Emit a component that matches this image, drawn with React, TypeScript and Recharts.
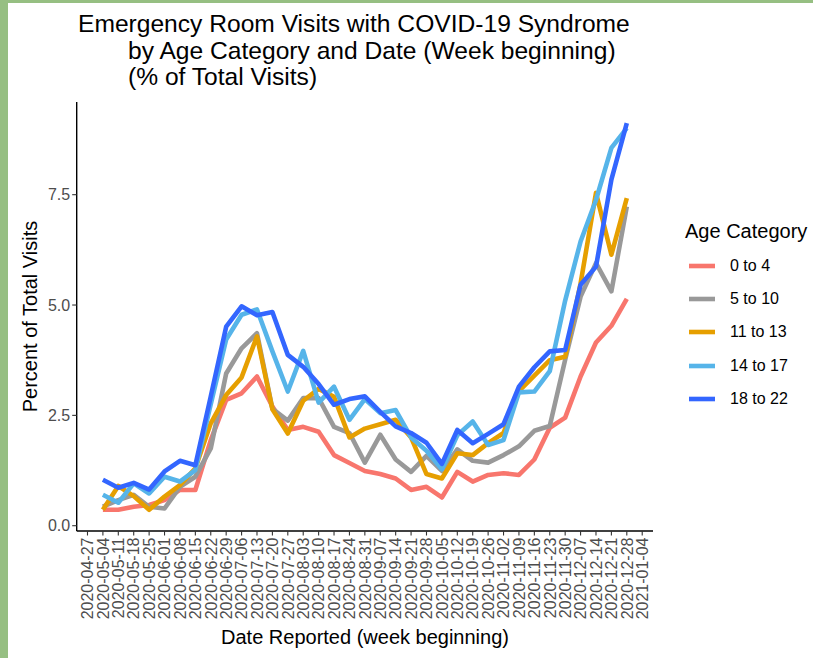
import React from "react";
import { LineChart, Line, XAxis, YAxis, Legend } from "recharts";

const weeks = [
  "2020-05-04", "2020-05-11", "2020-05-18", "2020-05-25", "2020-06-01",
  "2020-06-08", "2020-06-15", "2020-06-22", "2020-06-29", "2020-07-06",
  "2020-07-13", "2020-07-20", "2020-07-27", "2020-08-03", "2020-08-10",
  "2020-08-17", "2020-08-24", "2020-08-31", "2020-09-07", "2020-09-14",
  "2020-09-21", "2020-09-28", "2020-10-05", "2020-10-12", "2020-10-19",
  "2020-10-26", "2020-11-02", "2020-11-09", "2020-11-16", "2020-11-23",
  "2020-11-30", "2020-12-07", "2020-12-14", "2020-12-21", "2020-12-28",
];

const tickLabels = ["2020-04-27", ...weeks, "2021-01-04"];

const age0to4 = [0.36, 0.36, 0.43, 0.47, 0.58, 0.81, 0.81, 1.94, 2.85, 3.0, 3.38, 2.7, 2.17, 2.24, 2.13, 1.6, 1.42, 1.24, 1.17, 1.07, 0.81, 0.88, 0.64, 1.22, 1.0, 1.15, 1.19, 1.15, 1.5, 2.22, 2.45, 3.38, 4.15, 4.53, 5.14];
const age5to10 = [0.43, 0.58, 0.7, 0.43, 0.39, 0.88, 1.11, 1.75, 3.45, 4.02, 4.36, 2.65, 2.38, 2.89, 2.89, 2.24, 2.1, 1.43, 2.06, 1.5, 1.22, 1.58, 1.24, 1.73, 1.47, 1.43, 1.6, 1.8, 2.15, 2.26, 3.76, 5.19, 5.95, 5.31, 7.23];
const age11to13 = [0.36, 0.9, 0.67, 0.36, 0.66, 0.92, 1.3, 2.32, 2.96, 3.36, 4.29, 2.64, 2.09, 2.83, 3.1, 2.92, 2.0, 2.2, 2.3, 2.4, 2.0, 1.17, 1.07, 1.64, 1.6, 1.87, 2.1, 3.05, 3.4, 3.75, 3.83, 5.49, 7.54, 6.14, 7.42];
const age14to17 = [0.7, 0.52, 0.96, 0.73, 1.11, 1.0, 1.26, 2.75, 4.22, 4.78, 4.9, 3.95, 3.04, 3.96, 2.79, 3.15, 2.4, 2.87, 2.55, 2.62, 2.0, 1.7, 1.28, 2.05, 2.36, 1.83, 1.94, 3.02, 3.04, 3.5, 5.1, 6.44, 7.38, 8.56, 9.01];
const age18to22 = [1.04, 0.86, 0.97, 0.82, 1.23, 1.47, 1.37, 2.93, 4.51, 4.97, 4.77, 4.84, 3.87, 3.6, 3.21, 2.74, 2.87, 2.93, 2.58, 2.25, 2.1, 1.88, 1.4, 2.17, 1.87, 2.08, 2.3, 3.15, 3.59, 3.95, 3.98, 5.46, 5.87, 7.84, 9.12];

const yTicks = [0, 2.5, 5, 7.5];

const series = [
  { key: "a0", name: "0 to 4", color: "#F8766D", values: age0to4 },
  { key: "a5", name: "5 to 10", color: "#999999", values: age5to10 },
  { key: "a11", name: "11 to 13", color: "#E69F00", values: age11to13 },
  { key: "a14", name: "14 to 17", color: "#56B4E9", values: age14to17 },
  { key: "a18", name: "18 to 22", color: "#3366FF", values: age18to22 },
];

const data = weeks.map((w, i) => {
  const row: any = { idx: i, week: w };
  series.forEach((s) => (row[s.key] = s.values[i]));
  return row;
});

const FONT = "'Liberation Sans', Arial, Helvetica, sans-serif";
const LINE_W = 4.6;

const XTick = (props: any) => {
  const { x, y, payload } = props;
  return (
    <text
      transform={`translate(${x},${y}) rotate(-90)`}
      textAnchor="end"
      dy="0.36em"
      fontSize={16}
      fontFamily={FONT}
      fill="#4D4D4D"
    >
      {tickLabels[payload.value + 1]}
    </text>
  );
};

const YTick = (props: any) => {
  const { x, y, payload } = props;
  return (
    <text x={x} y={y} dy="0.36em" textAnchor="end" fontSize={16} fontFamily={FONT} fill="#4D4D4D">
      {payload.value.toFixed(1)}
    </text>
  );
};

const LegendBox = () => (
  <div style={{ position: "relative", width: 133, height: 220, fontFamily: FONT }}>
    <div style={{ position: "absolute", left: 5, top: 21, fontSize: 20, lineHeight: "20px", color: "#000", whiteSpace: "nowrap" }}>
      Age Category
    </div>
    {series.map((s, i) => {
      const cy = 66 + i * 33.2;
      return (
        <React.Fragment key={s.key}>
          <svg style={{ position: "absolute", left: 7, top: cy - 5 }} width={30} height={10}>
            <line x1={2} x2={28} y1={5} y2={5} stroke={s.color} strokeWidth={LINE_W} />
          </svg>
          <div style={{ position: "absolute", left: 50, top: cy - 8, fontSize: 16, lineHeight: "16px", color: "#000", whiteSpace: "nowrap" }}>
            {s.name}
          </div>
        </React.Fragment>
      );
    })}
  </div>
);

export default function App() {
  return (
    <div style={{ position: "absolute", left: 0, top: 0, width: 813, height: 658, background: "#96bf82", overflow: "hidden" }}>
      <div style={{ position: "absolute", left: 8, top: 3, width: 805, height: 655, background: "#ffffff" }} />
      <div style={{ position: "absolute", left: 0, top: 0 }}>
        <LineChart
          width={813}
          height={658}
          data={data}
          margin={{ top: 102, right: 160, bottom: 27, left: 16.7 }}
        >
          <XAxis
            dataKey="idx"
            type="number"
            domain={[-1.7, 35.7]}
            ticks={tickLabels.map((_, k) => k - 1)}
            interval={0}
            height={100}
            tickSize={4.5}
            tickMargin={2}
            tick={<XTick />}
            axisLine={{ stroke: "#000", strokeWidth: 1.4 }}
            tickLine={{ stroke: "#333", strokeWidth: 1.1 }}
            allowDataOverflow
          />
          <YAxis
            type="number"
            domain={[-0.12, 9.6]}
            ticks={yTicks}
            interval={0}
            width={60}
            tickSize={4.5}
            tickMargin={2}
            tick={<YTick />}
            axisLine={{ stroke: "#000", strokeWidth: 1.4 }}
            tickLine={{ stroke: "#333", strokeWidth: 1.1 }}
            allowDataOverflow
          />
          <Legend
            layout="horizontal"
            align="center"
            verticalAlign="middle"
            content={<LegendBox />}
            wrapperStyle={{ position: "absolute", left: 680, top: 200, width: 133, height: 220 }}
          />
          {series.map((s) => (
            <Line
              key={s.key}
              type="linear"
              dataKey={s.key}
              name={s.name}
              stroke={s.color}
              strokeWidth={LINE_W}
              strokeLinejoin="round"
              dot={false}
              activeDot={false}
              isAnimationActive={false}
            />
          ))}
        </LineChart>
      </div>
      <svg
        width={813}
        height={658}
        style={{ position: "absolute", left: 0, top: 0, pointerEvents: "none" }}
        fontFamily={FONT}
      >
        <text x={78} y={32} fontSize={24.6} fill="#000">Emergency Room Visits with COVID-19 Syndrome</text>
        <text x={128} y={58.5} fontSize={24.6} fill="#000">by Age Category and Date (Week beginning)</text>
        <text x={128} y={85} fontSize={24.6} fill="#000">(% of Total Visits)</text>
        <text x={365} y={644} fontSize={20} fill="#000" textAnchor="middle">Date Reported (week beginning)</text>
        <text transform="translate(37,316.5) rotate(-90)" fontSize={20} fill="#000" textAnchor="middle">Percent of Total Visits</text>
      </svg>
    </div>
  );
}
